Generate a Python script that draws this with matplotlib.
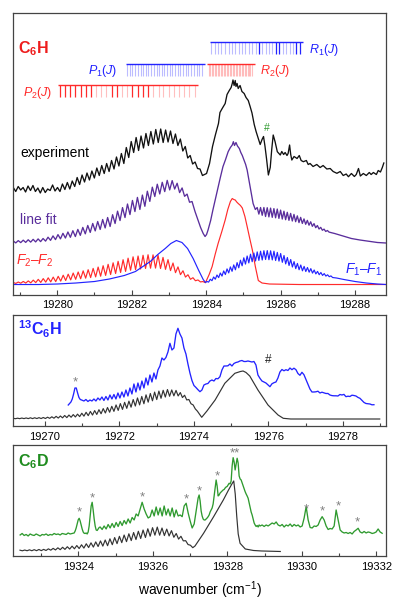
import numpy as np
import matplotlib
matplotlib.use("Agg")
import matplotlib.pyplot as plt
from matplotlib.ticker import MultipleLocator

plt.rcParams['font.family'] = ['Liberation Sans', 'DejaVu Sans']
plt.rcParams['mathtext.fontset'] = 'custom'
plt.rcParams['mathtext.rm'] = 'Liberation Sans'
plt.rcParams['mathtext.it'] = 'Liberation Sans:italic'
plt.rcParams['mathtext.bf'] = 'Liberation Sans:bold'


def seg(x0, x1, ys):
    # readings taken at evenly spaced wavenumbers from x0 to x1
    return np.linspace(x0, x1, len(ys)), np.asarray(ys, float)


def pts(xs, ys):
    return np.asarray(xs, float), np.asarray(ys, float)


def join(*parts):
    return (np.concatenate([p[0] for p in parts]),
            np.concatenate([p[1] for p in parts]))


# ---------------- C6H panel ----------------
exp_p = [107, 103, 108, 104.5, 107, 102.5, 108.5, 104, 109, 103, 106.5, 101.5, 107, 102, 105.5, 104,
         109.5, 103.5, 107, 103, 110.5, 105, 112, 105.5, 113.5, 108, 117, 110, 119.5, 112.5, 121.5,
         114.5, 123.5, 116.5, 126.5, 119, 129, 121, 131, 123, 134, 125.5, 137.5, 128.5, 141, 131, 147,
         137, 153, 142, 157, 144, 158.5, 146.5, 161, 149, 163, 150.5, 165, 152, 165.5, 152, 164.5,
         152.5, 163.5, 151, 160.5, 149, 155.5, 143.5, 148, 136.5, 139, 130.5, 132.5, 126, 125.5, 119]
exp_r_x = [19284.01, 19284.09, 19284.17, 19284.25, 19284.33, 19284.37, 19284.43, 19284.51, 19284.56,
           19284.62, 19284.67, 19284.70, 19284.72, 19284.75, 19284.78, 19284.80, 19284.83, 19284.86,
           19284.91, 19284.96, 19285.02, 19285.07, 19285.13, 19285.18, 19285.23, 19285.29, 19285.34,
           19285.40, 19285.45, 19285.50, 19285.54, 19285.58, 19285.62, 19285.67, 19285.72, 19285.76,
           19285.80, 19285.85, 19285.91, 19285.99, 19286.03, 19286.08, 19286.12, 19286.17, 19286.20,
           19286.24, 19286.27, 19286.30, 19286.36, 19286.44, 19286.50, 19286.55, 19286.61, 19286.69,
           19286.74, 19286.79, 19286.87, 19286.97, 19287.06, 19287.14, 19287.24, 19287.33, 19287.41,
           19287.51, 19287.60, 19287.68, 19287.76, 19287.82, 19287.90, 19287.98, 19288.03, 19288.09,
           19288.14, 19288.22, 19288.30, 19288.38, 19288.43, 19288.49, 19288.57, 19288.62, 19288.68,
           19288.73, 19288.77]
exp_r_y = [121, 131, 148, 160, 171, 182, 186, 191, 200, 204, 207, 211, 214.5, 209, 214, 208, 211, 206,
           209, 203, 201, 197, 194, 188, 181.5, 170, 163, 156, 150, 155, 158, 148, 136, 119.5, 127, 145,
           159.5, 152.8, 142.8, 139.5, 143, 140, 142, 139, 141, 149.5, 140, 134.5, 138, 136, 139, 134,
           132.8, 134, 130, 131, 128, 130, 127, 129, 125.5, 126, 123, 121.2, 123, 119, 120.5, 117.8, 121,
           118, 120, 126, 118.5, 121, 119, 122, 120, 122, 120, 124, 122.5, 127, 131.5]

fit_p = [53.5, 51.6, 53.9, 51.9, 54.35, 52.1, 54.75, 52.4, 55.15, 52.6, 55.6, 52.9, 56, 53.4, 57.3,
         54.15, 58.6, 54.9, 59.9, 55.65, 61.2, 56.45, 62.5, 57.2, 63.8, 57.95, 65.1, 59.15, 67.1, 60.65,
         69.05, 62.1, 71.05, 63.6, 73, 65.05, 75, 66.55, 77, 68, 79.8, 71, 83.35, 73.95, 86.9, 76.95,
         90.5, 79.95, 94.05, 82.95, 97.1, 85.05, 99.45, 88.2, 103.3, 93.1, 107.35, 98, 110.3, 100.55,
         112.2, 102.9, 114.15, 104.6, 113.9, 105.45, 111.25, 101.9, 106.55, 98.2, 100.4, 92.25, 93]
fit_m_x = [19283.70, 19283.78, 19283.85, 19283.92, 19283.97, 19284.01, 19284.05, 19284.12, 19284.18,
           19284.25, 19284.32, 19284.38, 19284.45, 19284.52, 19284.59, 19284.65, 19284.70, 19284.73,
           19284.76, 19284.80, 19284.84, 19284.89, 19284.93, 19284.97, 19285.02, 19285.06, 19285.10,
           19285.14, 19285.18, 19285.22, 19285.26, 19285.32]
fit_m_y = [83, 74.5, 67, 61, 58, 60, 64.5, 74, 84.5, 96, 107.8, 117, 127.8, 135, 142.8, 147, 149.5,
           152.8, 149, 152, 148.5, 146, 142, 139, 134, 130, 124.5, 116, 107.8, 99, 91, 85]
fit_r = [87, 80.4, 87, 79.2, 87, 78, 86.8, 77.6, 86.4, 77.15, 85.9, 76.7, 85.45, 76.1, 84.4, 75.45,
         83.3, 74.8, 82.2, 74.15, 81.1, 73.5, 80.1, 72.8, 78.65, 71.9, 77.15, 71.05, 75.6, 70.2, 74.15,
         69.3, 72.7, 68.15, 70.9, 66.8, 69, 65.5, 67.15, 64.25, 65.4, 63.05, 64, 62.4]
fit_t_x = [19287.45, 19287.67, 19287.9, 19288.13, 19288.4, 19288.6, 19288.83]
fit_t_y = [61, 58.5, 56, 54.5, 53, 52, 51.5]

f2_p = [12, 11.1, 12.5, 11.3, 13.05, 11.45, 13.6, 11.65, 14.4, 11.9, 15.15, 12.1, 15.9, 12.4, 16.7,
        12.65, 17.4, 12.9, 18.2, 13.4, 19.3, 14, 20.35, 14.6, 21.45, 15.2, 22.5, 15.75, 23.65, 16.35,
        24.8, 16.95, 26.1, 17.6, 27.45, 18.3, 28.8, 19.1, 30.2, 20, 31.7, 21, 33.2, 22.05, 34.8, 23.1,
        36.35, 24.25, 37.7, 24.9, 38.5, 25.5, 39.25, 26.05, 39.75, 26.3, 39.65, 26.4, 39.4, 26, 37.1,
        25.15, 34.85, 23.9, 31.5, 21.85, 27.6, 19.85, 23.75, 17.45, 19.75, 15.2, 16.8, 13.75, 14.55,
        12.6, 12.95, 11.8]
f2_r_x = [19284.08, 19284.16, 19284.24, 19284.32, 19284.42, 19284.51, 19284.58, 19284.65, 19284.70,
          19284.74, 19284.78, 19284.82, 19284.86, 19284.92, 19284.97, 19285.04, 19285.10, 19285.17,
          19285.24, 19285.32, 19285.40, 19285.5, 19285.7, 19286.5, 19288.83]
f2_r_y = [20, 28, 40, 51, 63, 74.5, 85, 93, 96, 95, 94.5, 92.5, 91, 89, 86.5, 78, 68, 56, 44.5, 28,
          14, 11.5, 10.5, 10, 10]

f1_p_x = [19278.82, 19279.5, 19280.0, 19280.5, 19281.0, 19281.4, 19281.8, 19282.1, 19282.3, 19282.5,
          19282.7, 19282.9, 19283.05, 19283.2, 19283.35, 19283.5, 19283.65, 19283.8, 19283.92, 19283.98]
f1_p_y = [10, 10, 10.5, 11.5, 13, 15.5, 19, 23, 28, 33, 40, 46, 51, 54, 52, 46, 36, 24, 15, 12]
f1_r = [13, 12.4, 15.3, 13.8, 17.5, 15.3, 19.5, 16.9, 21.5, 18.4, 23.6, 20, 25.6, 21.6, 27.6, 23.2,
        29.6, 24.7, 31.9, 26.7, 34.3, 28.7, 36.7, 30.4, 38.5, 31.6, 40.3, 32.8, 41.5, 33.5, 42.6, 34.1,
        43.3, 34.5, 43.8, 35, 43.9, 34.8, 43.7, 34.6, 43.3, 34, 42.1, 33.4, 41, 32.2, 39, 30.6, 37, 29,
        35, 27.5, 32.9, 25.9, 31.1, 24.8, 29.5, 23.7, 28.1, 23, 27, 22.3, 25.9, 21.4, 24.5, 20.6, 23.1,
        19.8, 22, 19.1, 20.9, 18.4, 19.7, 17.8, 18.6, 17]
f1_t_x = [19287.5, 19287.7, 19288.0, 19288.3, 19288.6, 19288.83]
f1_t_y = [16.5, 15, 13, 11.5, 10.5, 10]

# assigned rotational lines (cm-1) and which ones are marked strong
r1_lines = [19284.14, 19284.23, 19284.32, 19284.41, 19284.50, 19284.60, 19284.69, 19284.78, 19284.87,
            19284.96, 19285.05, 19285.14, 19285.23, 19285.33, 19285.42, 19285.51, 19285.60, 19285.69,
            19285.78, 19285.87, 19285.96, 19286.06, 19286.15, 19286.24, 19286.33, 19286.42, 19286.51]
r1_strong = [14, 19, 20, 25, 26]
p1_lines = [19281.88, 19281.95, 19282.02, 19282.09, 19282.17, 19282.24, 19282.31, 19282.38, 19282.45,
            19282.52, 19282.59, 19282.67, 19282.74, 19282.81, 19282.88, 19282.95, 19283.02, 19283.09,
            19283.17, 19283.24, 19283.31, 19283.38, 19283.45, 19283.52, 19283.59, 19283.67, 19283.74,
            19283.81, 19283.88]
p1_strong = []
r2_lines = [19284.07, 19284.11, 19284.15, 19284.19, 19284.23, 19284.27, 19284.31, 19284.35, 19284.39,
            19284.43, 19284.47, 19284.51, 19284.55, 19284.59, 19284.63, 19284.67, 19284.71, 19284.75,
            19284.79, 19284.83, 19284.87, 19284.91, 19284.95, 19284.99, 19285.03, 19285.07, 19285.11,
            19285.15, 19285.19, 19285.23]
r2_strong = []
p2_lines = [19280.07, 19280.21, 19280.35, 19280.49, 19280.63, 19280.77, 19280.91, 19281.05, 19281.18,
            19281.32, 19281.46, 19281.60, 19281.74, 19281.88, 19282.02, 19282.16, 19282.30, 19282.44,
            19282.58, 19282.72, 19282.85, 19282.99, 19283.13, 19283.27, 19283.41, 19283.55, 19283.69]
p2_strong = [0, 1, 2, 3, 4, 5, 6, 10, 11, 14, 15, 16, 17]

# ---------------- 13C6H panel ----------------
c13_sim_p = [7.7, 7.3, 7.8, 7.35, 7.95, 7.4, 8.05, 7.4, 8.2, 7.4, 8.25, 7.45, 8.35, 7.45, 8.5, 7.5, 8.8,
             7.65, 9.2, 7.8, 9.65, 7.95, 10, 8.15, 10.5, 8.4, 10.95, 8.75, 11.4, 9.05, 11.85, 9.4, 12.75,
             9.85, 13.7, 10.35, 14.55, 10.95, 15.4, 11.55, 16.3, 12.25, 17.4, 13, 18.5, 13.75, 19.7,
             14.65, 21.05, 15.6, 22.4, 16.6, 23.65, 17.65, 24.85, 18.8, 26.45, 19.95, 28.05, 21.1, 29.55,
             22.25, 31.15, 23.85, 32.5, 25.2, 33.9, 26.45, 34.9, 27.7, 35.7, 28.95, 36.45, 29.75, 36.05,
             30.15, 35.6, 30.05, 33.45, 28.45, 30.75, 26.05, 26.5, 22.25, 21.05, 17.1, 14.8, 11.7, 8.7]
c13_sim_r_x = [19274.35, 19274.57, 19274.83, 19275.10, 19275.25, 19275.32, 19275.40, 19275.50,
               19275.72, 19275.99, 19276.26, 19276.40, 19276.6, 19278.99]
c13_sim_r_y = [15, 26, 42.7, 52.7, 54.5, 55, 53.5, 50, 36, 21, 11, 7.7, 7, 7]
c13_exp_a = [21, 22.5, 24, 27, 32, 38, 38, 33, 28.5, 26.5, 26]
c13_exp_b = [25, 26.5, 24.5, 26, 25, 27, 25, 28, 26, 29, 25.5, 29.5, 26, 31, 27, 31.5, 27, 33, 28, 34,
             29, 36, 30, 38, 32, 42, 34, 43, 36, 45, 38, 48, 41, 51, 44, 53, 47, 56, 60]
c13_exp_c = [68, 66, 68.5, 74, 82.7, 76, 78, 92, 97.7, 92, 88, 78, 72, 62, 53, 45.5, 40.5, 38.5, 36.3,
             34.3, 36, 41, 42, 42.5, 45, 46, 45, 47.5, 47.2, 49.3, 56, 60, 60, 60.2, 62, 60, 62.5, 63.5,
             64, 65, 65.5, 64.5, 64.5, 65, 64.5, 64, 64.5, 61, 51, 47.7, 45, 44, 43, 41.2, 39.3, 42.2,
             43.3, 44, 48, 54, 56.5, 55.2, 56.3, 55.5, 58, 56.3, 57.8, 56.3, 52.5, 50.7, 53.7, 51.3, 46.5,
             41.7, 37, 34, 34, 34.2, 34.8, 33, 33.8, 33.2, 32.5, 32.5, 31, 30.4, 30.2, 30.2, 30, 31.5, 31,
             31.6, 29.3, 29.8, 29.5, 30.8, 30.5, 30, 28.6, 27.7, 25.6, 23.6, 22.5, 22.2, 22, 21.2, 21.3]

# ---------------- C6D panel ----------------
c6d_sim_p = [5.8, 5.2, 5.95, 5.25, 6.15, 5.25, 6.3, 5.3, 6.5, 5.35, 6.6, 5.5, 7.15, 5.8, 7.6, 6.05,
             8.15, 6.3, 8.7, 6.6, 9.25, 6.9, 9.85, 7.2, 10.45, 7.45, 11.2, 7.9, 12.2, 8.45, 13.15, 8.9,
             14.1, 9.45, 15.05, 9.85, 16, 10.3, 17.15, 11.3, 18.4, 12.35, 19.65, 13.35, 20.95, 14.35,
             22.2, 15.4, 23.45, 16.45, 24.7, 17.5, 25.95, 18.5, 27.2, 19.75, 28.3, 20.8, 28.9, 20.8,
             27.95, 20.4, 26.85, 20, 25.35, 18.7, 22.5, 16.9, 19.7, 15.1, 15.3, 11.45, 10.75, 8.3]
c6d_sim_r_x = [19327.13, 19327.36, 19327.63, 19327.89, 19328.03, 19328.12, 19328.17, 19328.21,
               19328.25, 19328.29, 19328.34, 19328.48, 19328.7, 19328.92, 19329.42]
c6d_sim_r_y = [10, 22.7, 39.3, 56, 66, 72, 75, 62, 40, 22, 12.7, 7, 5.5, 5, 4.5]
c6d_exp_1 = [21, 22.5, 20.5, 21.5, 20, 22, 21, 20.5, 22, 21, 20, 21.5, 21, 22, 20.5, 21.5, 21, 22.5,
             21.5, 22, 21, 22.5, 22, 21.5, 23, 22, 22.5]
c6d_exp_2 = [22.7, 23, 25, 28, 32, 36, 37.7, 35, 31, 27, 24, 22.7, 22.5, 23, 22, 24, 30, 40, 50, 53.7,
             46, 37, 30, 26, 25.5, 27, 28.5, 29]
c6d_exp_3 = [26.5, 30, 27, 31.5, 28, 32.5, 28.5, 33.5, 29.5, 34.5, 30.5, 35.5, 32, 37, 33, 38.5, 36, 42,
             40, 47, 53.7, 47, 42, 38, 39.3, 46, 40, 49, 41, 48, 40, 50, 41, 47, 40, 48, 39, 46, 40, 41,
             39.3, 50, 52.7, 43, 35, 28, 32, 45]
c6d_exp_4 = [52, 58, 61, 55, 45, 40, 37, 36, 36, 37, 38, 39.3, 41, 44, 46, 48, 52, 60, 68, 76, 70, 60,
             61, 63, 64, 65, 66, 66.5, 68, 69, 69.5, 71, 72.7, 72, 75, 90, 98.3, 94, 86, 92, 97.7, 93, 80,
             77, 76, 73, 70, 67, 64.3, 62, 60, 57.7, 53, 48, 44, 41, 37, 33, 31, 29.5, 30.5, 29, 31, 30]
c6d_exp_5 = [31, 29.5, 31, 30, 31.5, 33, 32, 34, 31, 30, 31.5, 29, 31, 30, 32, 29.5, 31.5, 30, 31, 29,
             30, 38, 49.3, 36, 28.5, 28, 30, 29.5, 31, 36, 39.3, 36, 30, 26.5, 27.5, 27, 30, 46, 36, 26,
             24, 23, 23.5, 22.5, 23.5, 22, 24.5, 26, 27.7, 24, 23, 24.5, 23, 24, 23.5, 22.5, 23, 24, 27,
             24, 22.7]
c6d_star_x = [19324.02, 19324.37, 19325.72, 19326.89, 19327.24, 19327.72, 19330.11, 19330.56,
              19330.97, 19331.50]
c6d_star_y = [44.3, 58.7, 59.3, 57.7, 66, 81, 47.7, 46, 50.3, 35]

exp_c6h = join(seg(19278.82, 19283.90, exp_p), pts(exp_r_x, exp_r_y))
fit_c6h = join(seg(19278.82, 19283.62, fit_p), pts(fit_m_x, fit_m_y),
               seg(19285.37, 19287.30, fit_r), pts(fit_t_x, fit_t_y))
f2_c6h = join(seg(19278.82, 19283.98, f2_p), pts(f2_r_x, f2_r_y))
f1_c6h = join(pts(f1_p_x, f1_p_y), seg(19284.02, 19287.395, f1_r), pts(f1_t_x, f1_t_y))
c13_sim = join(seg(19269.15, 19274.21, c13_sim_p), pts(c13_sim_r_x, c13_sim_r_y))
c13_exp = join(seg(19270.626, 19270.985, c13_exp_a), seg(19271.047, 19273.088, c13_exp_b),
               seg(19273.142, 19278.835, c13_exp_c))
c6d_sim = join(seg(19322.43, 19327.07, c6d_sim_p), pts(c6d_sim_r_x, c6d_sim_r_y))
c6d_exp = join(seg(19322.434, 19323.831, c6d_exp_1), seg(19323.858, 19324.583, c6d_exp_2),
               seg(19324.636, 19327.161, c6d_exp_3), seg(19327.187, 19328.879, c6d_exp_4),
               seg(19328.933, 19332.155, c6d_exp_5))

BLUE = '#2323ff'
RED = '#ff2b2b'
PURPLE = '#5a2e9c'
GREEN = '#2f9a2f'
GREY = '#444444'
STAR = '#808080'

fig = plt.figure(figsize=(3.99, 6.04), dpi=100)
ax1 = fig.add_axes([0.0333, 0.5124, 0.9333, 0.4656])
ax2 = fig.add_axes([0.0333, 0.2947, 0.9333, 0.1838])
ax3 = fig.add_axes([0.0333, 0.0795, 0.9333, 0.1838])

for ax in (ax1, ax2, ax3):
    ax.xaxis.set_major_locator(MultipleLocator(2))
    ax.xaxis.set_minor_locator(MultipleLocator(1))
    ax.tick_params(axis='x', which='both', direction='in', top=False, colors=GREY,
                   labelcolor='black', labelsize=8, pad=4)
    ax.tick_params(axis='x', which='major', length=3.6, width=0.8)
    ax.tick_params(axis='x', which='minor', length=2.2, width=0.8)
    ax.set_yticks([])
    ax.xaxis.set_major_formatter(plt.FuncFormatter(lambda v, p: '%d' % v))
    for s in ax.spines.values():
        s.set_color(GREY)
        s.set_linewidth(0.9)

# panel 1
ax1.set_xlim(19278.82, 19288.82)
ax1.set_ylim(0, 281.2)
ax1.plot(*exp_c6h, color='#111111', lw=0.95)
ax1.plot(*fit_c6h, color=PURPLE, lw=0.95)
ax1.plot(*f2_c6h, color=RED, lw=0.85)
ax1.plot(*f1_c6h, color=BLUE, lw=0.85)


def comb(ax, lines, strong, color, top, bottom):
    light = [x for i, x in enumerate(lines) if i not in strong]
    dark = [x for i, x in enumerate(lines) if i in strong]
    ax.vlines(light, bottom, top, color=color, alpha=0.3, lw=0.8)
    ax.vlines(dark, bottom, top, color=color, lw=0.9)
    ax.hlines(top, min(lines) - 0.04, max(lines) + 0.08, color=color, lw=1.0)


comb(ax1, r1_lines, r1_strong, BLUE, 252.5, 240.5)
comb(ax1, p1_lines, p1_strong, BLUE, 230.5, 218.5)
comb(ax1, r2_lines, r2_strong, RED, 230.5, 218.5)
comb(ax1, p2_lines, p2_strong, RED, 209.5, 197.5)

ax1.text(0.0126, 0.858, r'C$_\mathbf{6}$H', transform=ax1.transAxes, color='#ee1c1c',
         fontsize=11.5, fontweight='bold', va='baseline')
ax1.text(0.794, 0.858, r'$R_1(J)$', transform=ax1.transAxes, color=BLUE, fontsize=9, va='baseline')
ax1.text(0.2785, 0.784, r'$P_1(J)$', transform=ax1.transAxes, color=BLUE, fontsize=9,
         va='baseline', ha='right')
ax1.text(0.6625, 0.784, r'$R_2(J)$', transform=ax1.transAxes, color=RED, fontsize=9, va='baseline')
ax1.text(0.104, 0.707, r'$P_2(J)$', transform=ax1.transAxes, color=RED, fontsize=9,
         va='baseline', ha='right')
ax1.text(0.018, 0.488, 'experiment', transform=ax1.transAxes, color='black', fontsize=10,
         va='baseline')
ax1.text(0.018, 0.2496, 'line fit', transform=ax1.transAxes, color=PURPLE, fontsize=10,
         va='baseline')
ax1.text(0.0073, 0.105, r'$F_2$–$F_2$', transform=ax1.transAxes, color=RED, fontsize=10,
         va='baseline')
ax1.text(0.99, 0.0729, r'$F_1$–$F_1$', transform=ax1.transAxes, color=BLUE, fontsize=10,
         va='baseline', ha='right')
ax1.text(19285.63, 166.5, '#', color=GREEN, fontsize=7.5, ha='center', va='center')

# panel 2
ax2.set_xlim(19269.15, 19279.15)
ax2.set_ylim(0, 111)
ax2.plot(*c13_sim, color='#333333', lw=0.85)
ax2.plot(*c13_exp, color=BLUE, lw=0.95)
ax2.text(0.0126, 0.82, r'$^{\mathbf{13}}$C$_\mathbf{6}$H', transform=ax2.transAxes, color=BLUE,
         fontsize=11.5, fontweight='bold', va='baseline')
ax2.text(19270.82, 44, '*', color=STAR, fontsize=9.5, ha='center', va='center')
ax2.text(19276.0, 66, '#', color='#222222', fontsize=8.5, ha='center', va='center')

# panel 3
ax3.set_xlim(19322.25, 19332.25)
ax3.set_ylim(0, 111)
ax3.plot(*c6d_sim, color='#333333', lw=0.85)
ax3.plot(*c6d_exp, color=GREEN, lw=0.95)
ax3.text(0.0126, 0.805, r'C$_\mathbf{6}$D', transform=ax3.transAxes, color='#1f8c1f',
         fontsize=11.5, fontweight='bold', va='baseline')
for x, y in zip(c6d_star_x, c6d_star_y):
    ax3.text(x, y - 1, '*', color=STAR, fontsize=9.5, ha='center', va='center')
ax3.text(19328.21, 102.7, '**', color=STAR, fontsize=9.5, ha='center', va='center')
ax3.set_xlabel(r'wavenumber (cm$^{-1}$)', fontsize=10, labelpad=6)

fig.savefig('out.png', dpi=100)
